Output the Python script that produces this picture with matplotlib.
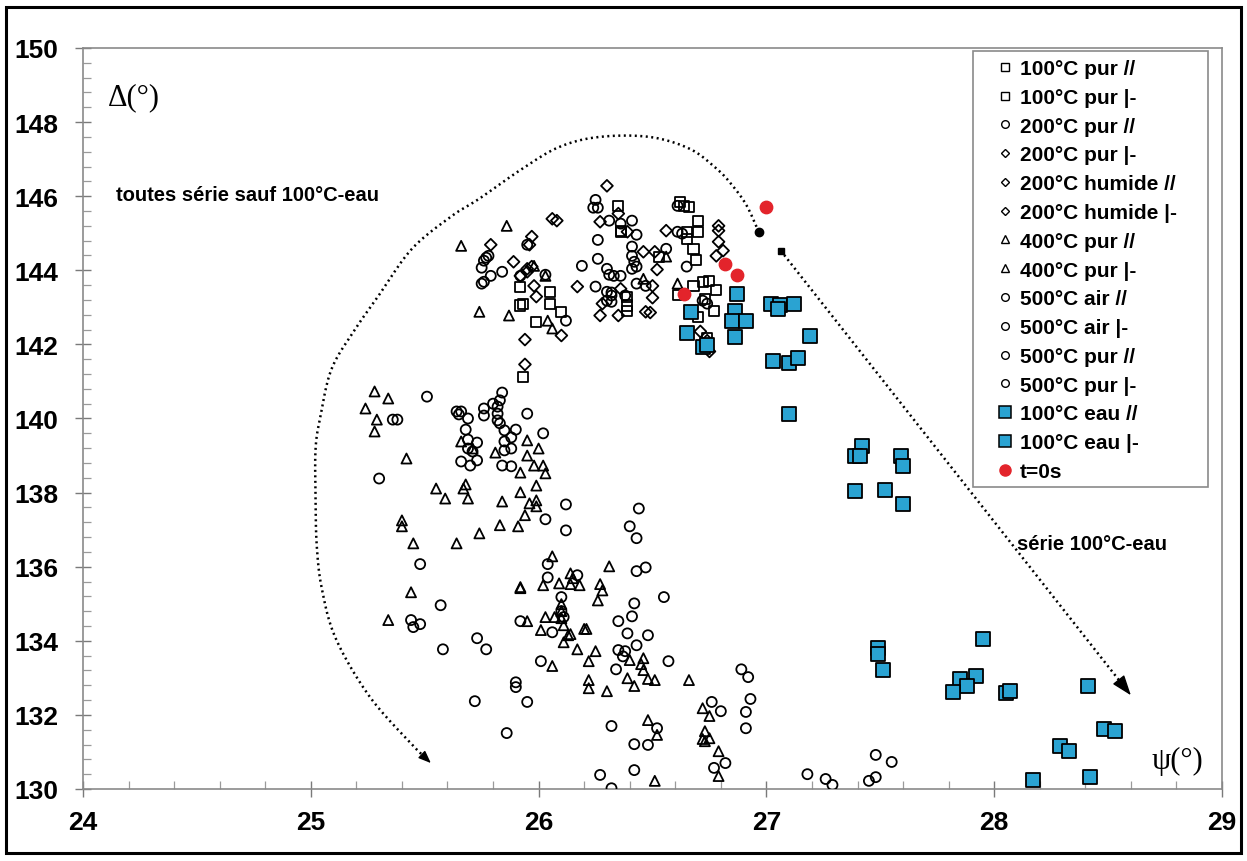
import matplotlib
matplotlib.use("Agg")
import matplotlib.pyplot as plt
import numpy as np
from matplotlib.lines import Line2D
from matplotlib.patches import Rectangle
from matplotlib.ticker import MultipleLocator

# ---------------- data (psi, Delta) ----------------
sq_par_x = [25.92, 25.92, 25.93, 26.35, 26.36, 26.36, 26.53, 26.39, 26.39, 26.39, 26.05, 26.05, 26.10, 25.99, 25.93, 26.74]
sq_par_y = [143.56, 143.05, 143.10, 145.74, 145.04, 145.07, 144.37, 143.29, 143.05, 142.91, 143.42, 143.10, 142.88, 142.61, 141.13, 142.16]
sq_perp_x = [26.62, 26.64, 26.66, 26.70, 26.70, 26.65, 26.65, 26.68, 26.69, 26.68, 26.72, 26.75, 26.78, 26.61, 26.73, 26.77, 26.70]
sq_perp_y = [145.85, 145.74, 145.71, 145.34, 145.04, 145.04, 144.85, 144.58, 144.29, 143.58, 143.69, 143.72, 143.48, 143.34, 143.23, 142.91, 142.75]

ci200_x = [25.95, 25.77, 25.78, 25.76, 25.75, 25.79, 25.75, 25.76, 25.84, 26.25, 26.24, 26.26, 26.31, 26.36, 26.41, 26.43,
           26.26, 26.26, 26.41, 26.41, 26.42, 26.41, 26.43, 26.19, 26.56, 26.30, 26.31, 26.33, 26.36, 26.43, 26.47, 26.25,
           26.30, 26.32, 26.32, 26.30, 26.38, 26.32, 26.03, 25.92, 26.12, 26.61, 26.61, 26.63, 26.65, 26.72, 26.74]
ci200_y = [144.69, 144.34, 144.39, 144.26, 144.07, 143.85, 143.64, 143.69, 143.96, 145.90, 145.69, 145.69, 145.34, 145.26, 145.34, 144.96,
           144.82, 144.31, 144.64, 144.39, 144.23, 144.04, 144.10, 144.12, 144.58, 144.04, 143.88, 143.85, 143.85, 143.64, 143.58, 143.56,
           143.42, 143.40, 143.32, 143.18, 143.32, 143.15, 143.88, 143.85, 142.64, 145.74, 145.04, 144.99, 144.10, 143.18, 143.10]

di_pur_x = [25.79, 25.89, 25.92, 25.94, 25.94, 25.95, 26.30, 26.35, 26.27, 26.39, 26.46, 26.51, 26.52, 26.50]
di_pur_y = [144.69, 144.23, 143.85, 142.13, 141.46, 144.04, 146.28, 145.53, 145.31, 145.04, 144.50, 144.50, 144.02, 143.58]
di_hum_par_x = [26.17, 26.36, 26.28, 26.35, 26.27, 26.47, 26.49, 26.50, 26.06, 26.08, 25.97, 25.96, 25.97]
di_hum_par_y = [143.56, 143.50, 143.10, 142.78, 142.78, 142.88, 142.86, 143.26, 145.39, 145.34, 144.91, 144.69, 144.10]
di_hum_perp_x = [25.95, 25.98, 25.99, 26.10, 26.56, 26.79, 26.79, 26.79, 26.81, 26.78, 26.71, 26.74, 26.75]
di_hum_perp_y = [143.96, 143.58, 143.29, 142.24, 145.07, 145.20, 145.07, 144.77, 144.53, 144.39, 142.35, 142.10, 141.81]

tri_par_x = [25.86, 25.66, 25.74, 25.87, 25.98, 26.03, 26.04, 26.06, 26.46, 26.56, 26.61,
             25.28, 25.34, 25.24, 25.29, 25.28, 25.42, 25.66, 25.71, 25.81, 25.95, 26.00, 25.95, 25.92, 25.98, 26.02, 26.03,
             25.99, 25.55, 25.59, 25.68, 25.67, 25.69, 25.84, 25.92, 25.96, 25.99, 25.99, 25.94, 25.91, 25.83, 25.74, 25.64,
             25.45, 25.40, 25.40]
tri_par_y = [145.20, 144.66, 142.88, 142.78, 144.12, 143.85, 142.64, 142.43, 143.77, 144.37, 143.64,
             140.73, 140.54, 140.27, 139.97, 139.65, 138.92, 139.38, 139.19, 139.08, 139.41, 139.19, 139.00, 138.54, 138.73, 138.73, 138.52,
             138.19, 138.11, 137.84, 138.22, 138.11, 137.84, 137.76, 138.01, 137.71, 137.79, 137.63, 137.39, 137.09, 137.12, 136.90, 136.63,
             136.63, 137.25, 137.09]
tri_perp_x = [25.44, 25.92, 25.34, 25.95, 26.06, 26.31, 26.02, 26.09, 26.14, 26.15, 26.14, 26.18, 26.27, 26.28, 26.26, 25.92,
              26.10, 26.10, 26.10, 26.11, 26.11, 26.13, 26.14, 26.03, 26.01, 26.07, 26.20, 26.21, 26.17, 26.25, 26.22, 26.06,
              26.40, 26.46, 26.45, 26.46, 26.39, 26.42, 26.48, 26.51, 26.66, 26.22, 26.22, 26.30, 26.72, 26.75, 26.48, 26.52,
              26.73, 26.73, 26.75, 26.72, 26.79, 26.79, 26.51]
tri_perp_y = [135.31, 135.45, 134.56, 134.53, 136.28, 136.01, 135.50, 135.55, 135.82, 135.69, 135.53, 135.50, 135.53, 135.36, 135.09, 135.42,
              134.99, 134.80, 134.61, 134.42, 133.96, 134.15, 134.18, 134.64, 134.29, 134.64, 134.32, 134.32, 133.77, 133.72, 133.45, 133.32,
              133.48, 133.53, 133.37, 133.21, 132.99, 132.78, 132.97, 132.94, 132.94, 132.94, 132.72, 132.64, 132.18, 131.97, 131.86, 131.46,
              131.56, 131.29, 131.37, 131.35, 131.02, 130.35, 130.22]

ci500air_par_x = [25.51, 25.36, 25.38, 25.30, 25.64, 25.66, 25.65, 25.69, 25.68, 25.69, 25.69, 25.71, 25.73, 25.73, 25.66, 25.70]
ci500air_par_y = [140.59, 139.97, 139.97, 138.38, 140.19, 140.19, 140.11, 140.00, 139.70, 139.43, 139.19, 139.11, 139.35, 138.87, 138.84, 138.73]
ci500air_perp_x = [25.76, 25.76, 25.80, 25.82, 25.83, 25.84, 25.82, 25.82, 25.83, 25.85, 25.90, 25.88, 25.85, 25.85, 25.88, 25.84, 25.88, 25.95, 26.02]
ci500air_perp_y = [140.27, 140.08, 140.40, 140.32, 140.49, 140.70, 140.13, 139.95, 139.87, 139.68, 139.70, 139.49, 139.38, 139.14, 139.19, 138.73, 138.71, 140.13, 139.60]

ci500pur_par_x = [26.03, 26.12, 26.12, 26.44, 26.40, 26.43, 26.04, 26.43, 26.47, 26.04, 26.17, 26.10, 26.10, 26.11, 26.42, 26.55,
                  26.41, 26.35, 26.39, 26.48, 26.43, 25.92, 26.06, 26.01, 26.35, 26.38, 26.37, 26.34, 26.57, 26.89, 26.92]
ci500pur_par_y = [137.28, 137.68, 136.98, 137.57, 137.09, 136.77, 136.07, 135.88, 135.98, 135.71, 135.77, 135.18, 134.80, 134.64, 135.01, 135.18,
                  134.66, 134.53, 134.20, 134.15, 133.88, 134.53, 134.23, 133.45, 133.75, 133.72, 133.58, 133.23, 133.45, 133.23, 133.02]
ci500pur_perp_x = [25.48, 25.57, 25.44, 25.45, 25.48, 25.73, 25.77, 25.58, 25.90, 25.90, 25.72, 25.95, 25.86, 26.93, 26.91, 26.91, 26.76,
                   26.80, 26.52, 26.32, 26.42, 26.48, 26.82, 26.77, 26.42, 26.27, 26.32, 27.18, 27.26, 27.29, 27.48, 27.55, 27.45, 27.48]
ci500pur_perp_y = [136.07, 134.96, 134.56, 134.37, 134.45, 134.07, 133.77, 133.77, 132.88, 132.75, 132.37, 132.35, 131.51, 132.43, 132.08, 131.64, 132.35,
                   132.10, 131.64, 131.70, 131.21, 131.19, 130.70, 130.57, 130.51, 130.38, 130.02, 130.40, 130.27, 130.11, 130.92, 130.73, 130.22, 130.32]

eau_par_x = [26.87, 27.02, 27.06, 27.12, 27.05, 26.67, 26.86, 26.85, 26.91, 26.65, 26.86, 27.19, 26.72, 26.74, 27.03, 27.10, 27.14, 27.10, 27.42, 27.39, 27.41]
eau_par_y = [143.37, 143.10, 143.05, 143.10, 142.96, 142.88, 142.91, 142.64, 142.64, 142.32, 142.21, 142.24, 141.94, 141.99, 141.54, 141.51, 141.64, 140.11, 139.27, 139.00, 139.00]
eau_perp_x = [27.59, 27.60, 27.39, 27.52, 27.60, 27.49, 27.49, 27.51, 27.95, 27.85, 27.92, 27.88, 27.82, 28.05, 28.07, 28.41, 28.48, 28.53, 28.29, 28.33, 28.17, 28.42]
eau_perp_y = [139.00, 138.71, 138.03, 138.06, 137.68, 133.80, 133.64, 133.21, 134.04, 132.97, 133.05, 132.78, 132.61, 132.59, 132.64, 132.78, 131.62, 131.56, 131.16, 131.02, 130.24, 130.32]

t0_x = [27.00, 26.82, 26.87, 26.64]
t0_y = [145.72, 144.18, 143.86, 143.35]

legend_labels = ["100°C pur //", "100°C pur |-", "200°C pur //", "200°C pur |-", "200°C humide //",
                 "200°C humide |-", "400°C pur //", "400°C pur |-", "500°C air //", "500°C air |-",
                 "500°C pur //", "500°C pur |-", "100°C eau //", "100°C eau |-", "t=0s"]
legend_markers = ["s", "s", "o", "D", "D", "D", "^", "^", "o", "o", "o", "o", "s", "s", "o"]

# annotation guide curve (psi, Delta)
curve_x = [26.966, 26.914, 26.852, 26.782, 26.663, 26.487, 26.267, 26.091, 25.928, 25.739, 25.620, 25.444,
           25.298, 25.197, 25.092, 25.043, 25.021, 25.021, 25.026, 25.048, 25.109, 25.254, 25.430, 25.527]
curve_y = [145.04, 145.74, 146.28, 146.74, 147.28, 147.60, 147.60, 147.33, 146.74, 145.93, 145.47, 144.58,
           143.32, 142.43, 141.35, 140.08, 139.19, 137.84, 136.58, 135.42, 134.07, 132.53, 131.29, 130.70]
line2_start = (27.063, 144.53)
line2_end = (28.60, 132.53)

BLUE = "#2aa3d2"
RED = "#e3242b"
BOLD = "Liberation Sans"
DOTS = (0, (0.8, 1.4))

W, H = 1247, 862
fig = plt.figure(figsize=(W / 100, H / 100), dpi=100)
ax = fig.add_axes([83 / W, 1 - 790 / H, (1222 - 83) / W, (790 - 49) / H])

open_kw = dict(facecolors="none", edgecolors="black", linewidths=1.3, zorder=3)
ax.scatter(sq_par_x, sq_par_y, marker="s", s=52, **open_kw)
ax.scatter(sq_perp_x, sq_perp_y, marker="s", s=52, **open_kw)
ax.scatter(ci200_x, ci200_y, marker="o", s=52, **open_kw)
ax.scatter(di_pur_x, di_pur_y, marker="D", s=36, **open_kw)
ax.scatter(di_hum_par_x, di_hum_par_y, marker="D", s=36, **open_kw)
ax.scatter(di_hum_perp_x, di_hum_perp_y, marker="D", s=36, **open_kw)
ax.scatter(tri_par_x, tri_par_y, marker="^", s=52, **open_kw)
ax.scatter(tri_perp_x, tri_perp_y, marker="^", s=52, **open_kw)
ax.scatter(ci500air_par_x, ci500air_par_y, marker="o", s=52, **open_kw)
ax.scatter(ci500air_perp_x, ci500air_perp_y, marker="o", s=52, **open_kw)
ax.scatter(ci500pur_par_x, ci500pur_par_y, marker="o", s=52, **open_kw)
ax.scatter(ci500pur_perp_x, ci500pur_perp_y, marker="o", s=52, **open_kw)
ax.scatter(eau_par_x, eau_par_y, marker="s", s=95, facecolors=BLUE, edgecolors="black", linewidths=1.3, zorder=4)
ax.scatter(eau_perp_x, eau_perp_y, marker="s", s=95, facecolors=BLUE, edgecolors="black", linewidths=1.3, zorder=4)
ax.scatter(t0_x, t0_y, marker="o", s=80, facecolors=RED, edgecolors=RED, zorder=5)

# ---- guide curve (Catmull-Rom smoothing of the drawn guide) ----
P = np.column_stack([curve_x, curve_y])
Pp = np.vstack([P[0], P, P[-1]])
pts = []
for i in range(1, len(Pp) - 2):
    p0, p1, p2, p3 = Pp[i - 1], Pp[i], Pp[i + 1], Pp[i + 2]
    for t in np.linspace(0, 1, 20, endpoint=False):
        t2, t3 = t * t, t * t * t
        pts.append(0.5 * ((2 * p1) + (-p0 + p2) * t + (2 * p0 - 5 * p1 + 4 * p2 - p3) * t2
                          + (-p0 + 3 * p1 - 3 * p2 + p3) * t3))
pts.append(P[-1])
pts = np.array(pts)
ax.plot(pts[:-5, 0], pts[:-5, 1], color="black", lw=1.8, ls=DOTS, zorder=2)
ax.annotate("", xy=(pts[-1, 0], pts[-1, 1]), xytext=(pts[-6, 0], pts[-6, 1]),
            arrowprops=dict(arrowstyle="-|>,head_length=0.75,head_width=0.3", color="black", lw=1.0,
                            shrinkA=0, shrinkB=0), zorder=2)
ax.plot([curve_x[0]], [curve_y[0]], "o", color="black", ms=6, zorder=3)

# ---- straight guide ----
sx, sy = line2_start
ex, ey = line2_end
ax.plot([sx], [sy], "s", color="black", ms=4.5, zorder=3)
ax.plot([sx, ex - 0.025 * (ex - sx)], [sy, ey - 0.025 * (ey - sy)], color="black", lw=1.8, ls=DOTS, zorder=2)
ax.annotate("", xy=line2_end, xytext=(ex - 0.035 * (ex - sx), ey - 0.035 * (ey - sy)),
            arrowprops=dict(arrowstyle="-|>,head_length=1.25,head_width=0.45", color="black", lw=1.0,
                            shrinkA=0, shrinkB=0), zorder=2)

# ---- text annotations ----
ax.text(24.11, 148.68, "Δ(°)", fontfamily="Liberation Serif", fontsize=22, va="center", ha="left")
ax.text(28.69, 130.78, "ψ(°)", fontfamily="Liberation Serif", fontsize=22, va="center", ha="left")
ax.text(24.145, 146.04, "toutes série sauf 100°C-eau", fontfamily=BOLD, fontweight="bold",
        fontsize=14.5, va="center", ha="left")
ax.text(28.10, 136.63, "série 100°C-eau", fontfamily=BOLD, fontweight="bold",
        fontsize=14.5, va="center", ha="left")

# ---- axes ----
ax.set_xlim(24, 29)
ax.set_ylim(130, 150)
ax.xaxis.set_major_locator(MultipleLocator(1))
ax.xaxis.set_minor_locator(MultipleLocator(0.2))
ax.yaxis.set_major_locator(MultipleLocator(2))
ax.yaxis.set_minor_locator(MultipleLocator(0.4))
for sp in ax.spines.values():
    sp.set_color("#8a8a8a")
    sp.set_linewidth(1.2)
ax.tick_params(which="major", direction="inout", length=12, width=1.0, color="#7a7a7a", pad=9)
ax.tick_params(axis="y", which="major", pad=12)
ax.tick_params(which="minor", direction="in", length=6, width=0.9, color="#9a9a9a")
for lab in ax.get_xticklabels() + ax.get_yticklabels():
    lab.set_fontfamily(BOLD)
    lab.set_fontweight("bold")
    lab.set_fontsize(19)

# ---- legend ----
handles = []
for lab, mk in zip(legend_labels, legend_markers):
    if lab.startswith("100°C eau"):
        h = Line2D([], [], ls="", marker="s", ms=8, mfc=BLUE, mec="black", mew=1.1)
    elif lab == "t=0s":
        h = Line2D([], [], ls="", marker="o", ms=8, mfc=RED, mec=RED)
    else:
        ms = 4.2 if mk == "D" else 5.5
        h = Line2D([], [], ls="", marker=mk, ms=ms, mfc="white", mec="black", mew=1.0)
    handles.append(h)
leg = ax.legend(handles, legend_labels, loc="upper left",
                bbox_to_anchor=((996 - 83) / 1139, (790 - 60) / 741), frameon=False,
                borderpad=0, borderaxespad=0, handlelength=0.85, handletextpad=0.3,
                labelspacing=0.47, prop=dict(family=BOLD, weight="bold", size=15))
ax.add_patch(Rectangle(((973 - 83) / 1139, (790 - 488) / 741), (1208 - 973) / 1139, (488 - 52) / 741,
                       transform=ax.transAxes, facecolor="none", edgecolor="#8a8a8a", lw=1.2,
                       zorder=6, clip_on=False))

# outer frame
fig.patches.append(Rectangle((6 / W, 8 / H), (W - 12) / W, (H - 16) / H, transform=fig.transFigure,
                             facecolor="none", edgecolor="black", lw=2.2))

fig.savefig("out.png", dpi=100)
